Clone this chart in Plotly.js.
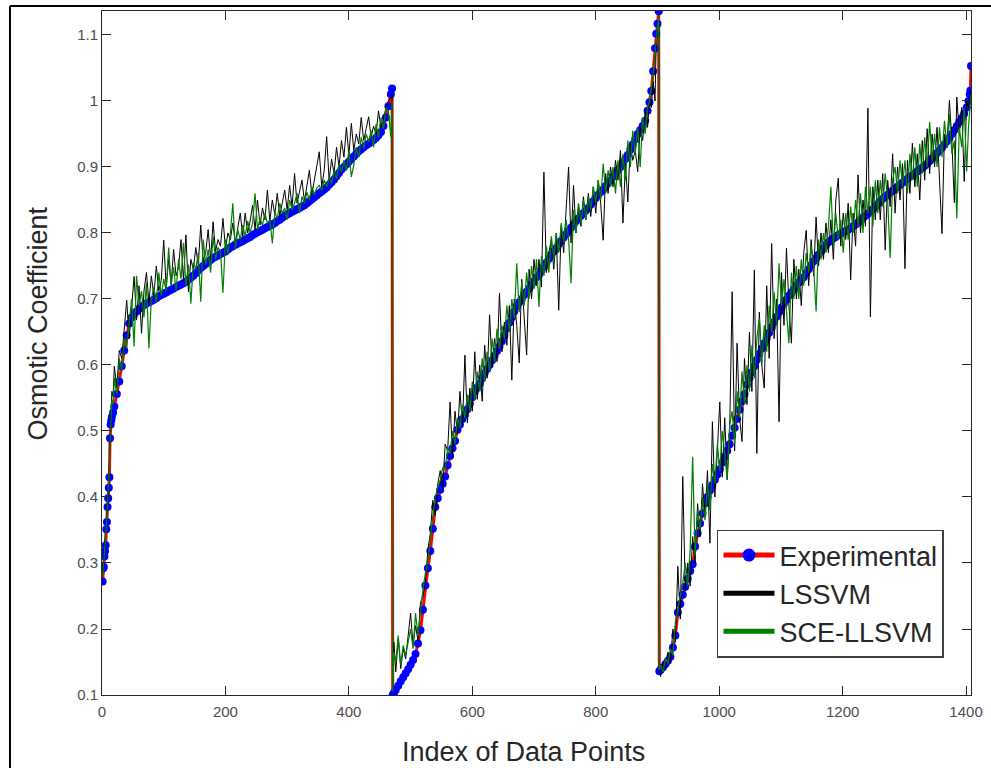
<!DOCTYPE html>
<html>
<head>
<meta charset="utf-8">
<script src="https://cdn.plot.ly/plotly-3.0.1.min.js"></script>
<style>
  html, body { margin: 0; padding: 0; background: #ffffff; }
  #chart { width: 991px; height: 768px; }
</style>
</head>
<body>
<div id="chart"></div>
<script>
// ---------------- DATA ----------------
const seg1Index = [1,2,3,4,5,6,7,8,9,10,
  11,12,13,14,15,16,18,20,24,28,
  32,36,40,44,48,52,56,60,64,68,
  72,76,80,84,88,92,96,100,104,108,
  112,116,120,124,128,132,136,140,144,148,
  152,156,160,164,168,172,176,180,184,188,
  192,196,200,204,208,212,216,220,224,228,
  232,236,240,244,248,252,256,260,264,268,
  272,276,280,284,288,292,296,300,304,308,
  312,316,320,324,328,332,336,340,344,348,
  352,356,360,364,368,372,376,380,384,388,
  392,396,400,404,408,412,416,420,424,428,
  432,436,440,444,448,452,456,460,464,468,
  470];
const seg1Exp = [0.272,0.292,0.294,0.310,0.318,0.327,0.351,0.362,0.385,0.398,
  0.414,0.430,0.489,0.510,0.516,0.521,0.528,0.537,0.556,0.575,
  0.598,0.622,0.645,0.663,0.672,0.677,0.681,0.685,0.688,0.691,
  0.693,0.695,0.697,0.699,0.701,0.704,0.706,0.708,0.710,0.712,
  0.714,0.716,0.718,0.720,0.722,0.724,0.726,0.729,0.732,0.735,
  0.739,0.743,0.747,0.750,0.753,0.756,0.759,0.762,0.764,0.766,
  0.768,0.770,0.772,0.775,0.778,0.780,0.782,0.784,0.786,0.788,
  0.790,0.792,0.794,0.797,0.799,0.801,0.803,0.805,0.807,0.809,
  0.811,0.813,0.815,0.818,0.820,0.823,0.826,0.828,0.830,0.832,
  0.834,0.836,0.838,0.840,0.842,0.845,0.848,0.851,0.854,0.857,
  0.860,0.863,0.866,0.869,0.873,0.877,0.881,0.886,0.891,0.896,
  0.900,0.904,0.908,0.912,0.916,0.920,0.924,0.927,0.930,0.933,
  0.935,0.938,0.941,0.944,0.948,0.953,0.962,0.975,0.992,1.010,
  1.019];
const seg1Lssvm = [0.285,0.300,0.312,0.325,0.335,0.350,0.362,0.375,0.390,0.405,
  0.420,0.455,0.490,0.520,0.545,0.560,0.552,0.598,0.565,0.622,
  0.610,0.655,0.698,0.640,0.690,0.734,0.668,0.720,0.648,0.712,
  0.740,0.695,0.735,0.705,0.750,0.712,0.728,0.789,0.718,0.760,
  0.722,0.775,0.735,0.748,0.790,0.728,0.797,0.711,0.760,0.745,
  0.778,0.752,0.812,0.758,0.770,0.805,0.760,0.817,0.772,0.790,
  0.780,0.822,0.776,0.800,0.790,0.815,0.785,0.808,0.830,0.795,
  0.830,0.800,0.818,0.842,0.805,0.850,0.812,0.838,0.820,0.865,
  0.818,0.850,0.828,0.860,0.826,0.845,0.865,0.835,0.872,0.840,
  0.890,0.845,0.862,0.880,0.848,0.872,0.895,0.858,0.880,0.905,
  0.923,0.870,0.895,0.946,0.880,0.912,0.890,0.930,0.900,0.940,
  0.915,0.960,0.918,0.966,0.925,0.950,0.935,0.975,0.940,0.958,
  0.976,0.945,0.962,0.950,0.985,0.960,0.972,0.990,1.000,1.005,
  1.010];
const seg1Sce = [0.280,0.296,0.305,0.318,0.330,0.340,0.355,0.370,0.382,0.400,
  0.418,0.445,0.480,0.505,0.530,0.548,0.540,0.580,0.555,0.610,
  0.592,0.640,0.625,0.668,0.700,0.628,0.735,0.690,0.712,0.672,
  0.725,0.625,0.700,0.718,0.695,0.740,0.705,0.730,0.712,0.778,
  0.720,0.748,0.712,0.760,0.730,0.785,0.720,0.752,0.693,0.755,
  0.745,0.770,0.696,0.790,0.752,0.775,0.740,0.795,0.760,0.778,
  0.772,0.709,0.790,0.768,0.800,0.845,0.776,0.805,0.790,0.812,
  0.795,0.818,0.800,0.815,0.860,0.805,0.822,0.812,0.830,0.815,
  0.820,0.784,0.832,0.822,0.845,0.830,0.838,0.820,0.850,0.835,
  0.845,0.860,0.830,0.855,0.845,0.862,0.850,0.870,0.858,0.868,
  0.872,0.865,0.880,0.870,0.885,0.875,0.895,0.882,0.905,0.892,
  0.910,0.895,0.925,0.885,0.903,0.930,0.915,0.945,0.928,0.950,
  0.938,0.955,0.930,0.965,0.945,0.975,0.958,0.990,0.985,0.945,
  1.000];

const seg2Index = [471,473,476,480,484,488,492,496,500,504,
  508,512,516,520,524,528,532,536,540,544,
  548,552,556,560,564,568,572,576,580,584,
  588,592,596,600,604,608,612,616,620,624,
  628,632,636,640,644,648,652,656,660,664,
  668,672,676,680,684,688,692,696,700,704,
  708,712,716,720,724,728,732,736,740,744,
  748,752,756,760,764,768,772,776,780,784,
  788,792,796,800,804,808,812,816,820,824,
  828,832,836,840,844,848,852,856,860,864,
  868,872,876,880,884,887,890,893,896,898,
  900,902];
const seg2Exp = [0.100,0.103,0.108,0.114,0.121,0.127,0.133,0.139,0.146,0.153,
  0.162,0.178,0.198,0.229,0.266,0.292,0.318,0.352,0.385,0.398,
  0.411,0.420,0.431,0.448,0.462,0.474,0.485,0.502,0.510,0.518,
  0.525,0.533,0.541,0.551,0.560,0.566,0.572,0.580,0.588,0.594,
  0.600,0.607,0.614,0.621,0.628,0.636,0.645,0.655,0.664,0.672,
  0.681,0.689,0.695,0.700,0.706,0.711,0.716,0.722,0.727,0.733,
  0.737,0.743,0.749,0.755,0.761,0.767,0.772,0.777,0.783,0.788,
  0.793,0.798,0.803,0.808,0.813,0.818,0.822,0.826,0.830,0.834,
  0.838,0.843,0.848,0.853,0.858,0.862,0.866,0.871,0.876,0.880,
  0.885,0.890,0.895,0.900,0.906,0.912,0.918,0.926,0.934,0.942,
  0.950,0.956,0.962,0.970,0.985,0.998,1.015,1.045,1.080,1.102,
  1.117,1.136];
const seg2Lssvm = [0.110,0.180,0.135,0.186,0.140,0.170,0.155,0.190,0.224,0.175,
  0.205,0.182,0.240,0.250,0.272,0.320,0.345,0.395,0.372,0.420,
  0.440,0.412,0.480,0.470,0.544,0.460,0.530,0.495,0.560,0.508,
  0.615,0.512,0.565,0.530,0.620,0.548,0.600,0.545,0.630,0.580,
  0.676,0.598,0.640,0.605,0.709,0.620,0.665,0.630,0.690,0.577,
  0.700,0.660,0.603,0.730,0.680,0.615,0.745,0.700,0.760,0.720,
  0.760,0.718,0.892,0.740,0.770,0.790,0.745,0.800,0.683,0.810,
  0.770,0.830,0.900,0.785,0.872,0.800,0.840,0.810,0.855,0.820,
  0.860,0.825,0.870,0.830,0.880,0.845,0.789,0.890,0.860,0.900,
  0.870,0.910,0.880,0.925,0.815,0.905,0.847,0.935,0.910,0.925,
  0.893,0.960,0.940,0.985,0.960,1.000,0.990,1.030,1.000,1.090,
  1.110,1.120];
const seg2Sce = [0.105,0.165,0.150,0.190,0.145,0.175,0.160,0.180,0.200,0.170,
  0.224,0.190,0.230,0.260,0.285,0.300,0.340,0.375,0.400,0.415,
  0.425,0.445,0.440,0.475,0.465,0.500,0.480,0.520,0.505,0.540,
  0.520,0.555,0.530,0.575,0.548,0.590,0.560,0.610,0.575,0.620,
  0.590,0.640,0.605,0.655,0.625,0.660,0.640,0.690,0.650,0.700,
  0.670,0.754,0.680,0.725,0.690,0.740,0.700,0.750,0.715,0.760,
  0.688,0.765,0.735,0.780,0.740,0.795,0.760,0.800,0.770,0.815,
  0.785,0.820,0.790,0.724,0.835,0.800,0.845,0.815,0.850,0.820,
  0.855,0.835,0.870,0.845,0.880,0.850,0.905,0.860,0.895,0.870,
  0.900,0.860,0.910,0.870,0.920,0.880,0.940,0.900,0.955,0.920,
  0.960,0.900,0.975,0.950,0.990,1.000,1.020,1.040,1.070,1.095,
  1.110,1.130];

const seg3Index = [903,905,909,913,917,921,925,929,933,937,
  941,945,949,953,957,961,965,969,973,977,
  981,985,989,993,997,1001,1005,1009,1013,1017,
  1021,1025,1029,1033,1037,1041,1045,1049,1053,1057,
  1061,1065,1069,1073,1077,1081,1085,1089,1093,1097,
  1101,1105,1109,1113,1117,1121,1125,1129,1133,1137,
  1141,1145,1149,1153,1157,1161,1165,1169,1173,1177,
  1181,1185,1189,1193,1197,1201,1205,1209,1213,1217,
  1221,1225,1229,1233,1237,1241,1245,1249,1253,1257,
  1261,1265,1269,1273,1277,1281,1285,1289,1293,1297,
  1301,1305,1309,1313,1317,1321,1325,1329,1333,1337,
  1341,1345,1349,1353,1357,1361,1365,1369,1373,1377,
  1381,1385,1389,1393,1397,1401,1404,1406,1407,1408];
const seg3Exp = [0.136,0.138,0.142,0.147,0.152,0.158,0.172,0.190,0.225,0.238,
  0.252,0.264,0.276,0.288,0.298,0.325,0.345,0.360,0.375,0.390,
  0.400,0.410,0.418,0.426,0.434,0.442,0.452,0.461,0.470,0.480,
  0.493,0.505,0.518,0.532,0.545,0.556,0.570,0.580,0.589,0.598,
  0.608,0.617,0.625,0.633,0.641,0.649,0.657,0.665,0.673,0.680,
  0.687,0.693,0.699,0.705,0.710,0.715,0.720,0.725,0.729,0.733,
  0.739,0.745,0.751,0.757,0.762,0.767,0.772,0.777,0.782,0.786,
  0.789,0.792,0.794,0.797,0.799,0.801,0.803,0.805,0.807,0.810,
  0.813,0.816,0.819,0.823,0.826,0.829,0.833,0.836,0.840,0.844,
  0.848,0.852,0.855,0.858,0.861,0.864,0.867,0.870,0.873,0.876,
  0.879,0.882,0.885,0.887,0.890,0.893,0.896,0.899,0.902,0.905,
  0.909,0.913,0.917,0.921,0.925,0.929,0.934,0.939,0.944,0.950,
  0.956,0.962,0.968,0.974,0.981,0.990,1.000,1.010,1.016,1.053];
const seg3Lssvm = [0.140,0.128,0.150,0.140,0.165,0.150,0.200,0.180,0.295,0.215,
  0.431,0.260,0.300,0.265,0.340,0.300,0.390,0.340,0.420,0.370,
  0.440,0.330,0.514,0.400,0.470,0.544,0.430,0.520,0.426,0.500,
  0.711,0.470,0.633,0.520,0.484,0.610,0.540,0.650,0.560,0.744,
  0.466,0.680,0.600,0.565,0.720,0.610,0.784,0.640,0.700,0.514,
  0.740,0.660,0.777,0.690,0.633,0.760,0.700,0.745,0.690,0.770,
  0.804,0.720,0.790,0.735,0.824,0.750,0.800,0.760,0.815,0.770,
  0.820,0.760,0.850,0.883,0.780,0.830,0.790,0.845,0.729,0.830,
  0.780,0.888,0.800,0.850,0.810,0.989,0.673,0.870,0.820,0.880,
  0.820,0.890,0.774,0.880,0.840,0.920,0.830,0.900,0.850,0.905,
  0.746,0.910,0.860,0.936,0.870,0.920,0.850,0.940,0.880,0.958,
  0.890,0.950,0.900,0.960,0.880,0.799,0.950,0.930,1.001,0.940,
  0.846,1.006,0.950,0.990,0.878,1.000,0.990,1.005,1.010,1.015];
const seg3Sce = [0.138,0.145,0.135,0.155,0.148,0.170,0.160,0.210,0.230,0.250,
  0.270,0.300,0.265,0.320,0.461,0.310,0.380,0.350,0.400,0.365,
  0.420,0.380,0.450,0.420,0.480,0.440,0.500,0.465,0.427,0.510,
  0.530,0.480,0.560,0.520,0.590,0.540,0.600,0.560,0.630,0.580,
  0.640,0.671,0.600,0.660,0.620,0.690,0.650,0.710,0.660,0.754,
  0.690,0.730,0.680,0.633,0.740,0.700,0.750,0.700,0.760,0.720,
  0.770,0.740,0.780,0.750,0.681,0.790,0.760,0.800,0.770,0.810,
  0.870,0.780,0.830,0.790,0.820,0.770,0.830,0.790,0.840,0.800,
  0.850,0.810,0.860,0.800,0.870,0.830,0.870,0.810,0.880,0.830,
  0.880,0.840,0.890,0.850,0.762,0.880,0.900,0.860,0.910,0.870,
  0.910,0.860,0.920,0.880,0.930,0.870,0.935,0.890,0.945,0.900,
  0.968,0.910,0.950,0.900,0.960,0.915,0.970,0.930,0.980,0.920,
  0.940,0.822,0.960,0.930,0.990,0.893,0.960,0.990,1.000,1.010];

const xTicks = [0, 200, 400, 600, 800, 1000, 1200, 1400];
const seriesNames = ['Experimental', 'LSSVM', 'SCE-LLSVM'];
const xTitle = 'Index of Data Points';
const yTitle = 'Osmotic Coefficient';

// ---------------- BUILD ----------------
const index = seg1Index.concat(seg2Index, seg3Index);
const expVals = seg1Exp.concat(seg2Exp, seg3Exp);
const lssvmVals = seg1Lssvm.concat(seg2Lssvm, seg3Lssvm);
const sceVals = seg1Sce.concat(seg2Sce, seg3Sce);
if (index.length !== expVals.length || index.length !== lssvmVals.length || index.length !== sceVals.length) {
  console.error('length mismatch', index.length, expVals.length, lssvmVals.length, sceVals.length);
}

const FONT = '"Liberation Sans", Arial, Helvetica, sans-serif';

const traces = [
  { type: 'scatter', mode: 'lines+markers', x: index, y: expVals, name: seriesNames[0],
    line: { color: '#ff0000', width: 3 },
    marker: { color: '#0000ff', size: 8, symbol: 'circle', line: { width: 0 } },
    showlegend: false },
  { type: 'scatter', mode: 'lines', x: index, y: lssvmVals, name: seriesNames[1],
    line: { color: '#000000', width: 1 }, showlegend: false },
  { type: 'scatter', mode: 'lines', x: index, y: sceVals, name: seriesNames[2],
    line: { color: '#008000', width: 1.2 }, showlegend: false },
  // legend entries (thicker samples, as in the reference legend)
  { type: 'scatter', mode: 'lines+markers', x: [null], y: [null], name: seriesNames[0],
    line: { color: '#ff0000', width: 5 }, marker: { color: '#0000ff', size: 13 }, showlegend: true },
  { type: 'scatter', mode: 'lines', x: [null], y: [null], name: seriesNames[1],
    line: { color: '#000000', width: 5 }, showlegend: true },
  { type: 'scatter', mode: 'lines', x: [null], y: [null], name: seriesNames[2],
    line: { color: '#008000', width: 5 }, showlegend: true }
];

const axisCommon = {
  showgrid: false, zeroline: false,
  showline: true, linecolor: '#262626', linewidth: 1, mirror: 'ticks',
  ticks: 'inside', ticklen: 9, tickwidth: 1, tickcolor: '#262626',
  tickfont: { family: FONT, size: 15, color: '#4d4d4d' }
};

const layout = {
  width: 991, height: 768,
  margin: { l: 102, r: 20, t: 11, b: 73, pad: 0 },
  paper_bgcolor: '#ffffff', plot_bgcolor: '#ffffff',
  font: { family: FONT, color: '#262626' },
  xaxis: Object.assign({}, axisCommon, {
    range: [0, 1408], tickmode: 'array', tickvals: xTicks, ticklabelstandoff: 3
  }),
  yaxis: Object.assign({}, axisCommon, {
    range: [0.1, 1.1363], tick0: 0.1, dtick: 0.1
  }),
  annotations: [
    { text: xTitle, xref: 'paper', yref: 'paper', x: 0.485, y: -0.0833,
      xanchor: 'center', yanchor: 'middle', showarrow: false,
      font: { family: FONT, size: 27, color: '#262626' } },
    { text: yTitle, xref: 'paper', yref: 'paper', x: -0.0742, y: 0.5424,
      xanchor: 'center', yanchor: 'middle', textangle: -90, showarrow: false,
      font: { family: FONT, size: 27, color: '#262626' } }
  ],
  legend: {
    x: 0.7077, y: 0.2419, xanchor: 'left', yanchor: 'top',
    bgcolor: '#ffffff', bordercolor: '#404040', borderwidth: 1.5,
    font: { family: FONT, size: 27, color: '#262626' },
    tracegroupgap: 0, itemwidth: 51
  },
  shapes: [
    { type: 'line', xref: 'paper', yref: 'paper', x0: -0.1059, x1: -0.1059, y0: -0.2, y1: 1.0073,
      line: { color: '#000000', width: 2 } },
    { type: 'line', xref: 'paper', yref: 'paper', x0: -0.1059, x1: 1.2, y0: 1.0073, y1: 1.0073,
      line: { color: '#000000', width: 2 } }
  ],
  showlegend: true
};

Plotly.newPlot('chart', traces, layout, { displayModeBar: false, staticPlot: true });
</script>
</body>
</html>
